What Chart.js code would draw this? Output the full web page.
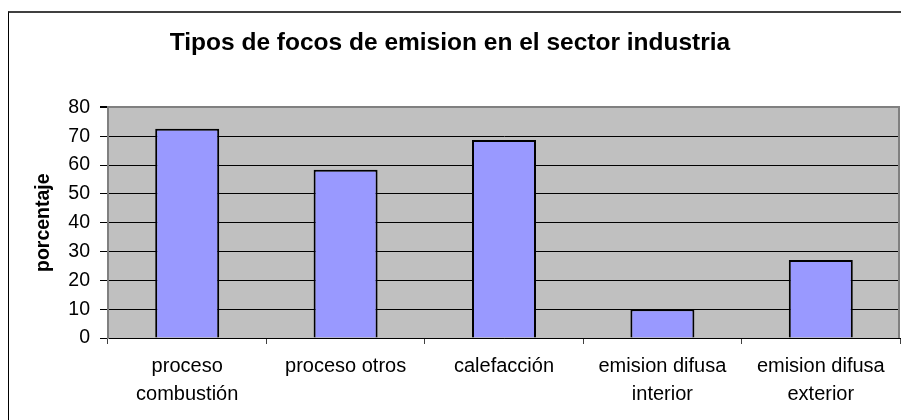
<!DOCTYPE html>
<html>
<head>
<meta charset="utf-8">
<script src="https://cdn.jsdelivr.net/npm/chart.js@4.4.1/dist/chart.umd.min.js"></script>
<style>
    html, body { margin: 0; padding: 0; background: #fff; overflow: hidden; }
    #frame { position: absolute; left: 8px; top: 11px; width: 1000px; height: 1000px;
             border-left: 1px solid #000; border-top: 2px solid #404040; }
    #wrap { position: absolute; left: 0; top: 0; width: 901px; height: 420px; }
</style>
</head>
<body>
<div id="frame"></div>
<div id="wrap"><canvas id="chart"></canvas></div>
<script>
// Chart data
const categories = [
    ['proceso', 'combustión'],
    'proceso otros',
    'calefacción',
    ['emision difusa', 'interior'],
    ['emision difusa', 'exterior']
];
const percentages = [72.6, 58.4, 68.7, 10, 27.1];
const yMin = 0;
const yMax = 80;
const yStep = 10;

const chartTitle = 'Tipos de focos de emision en el sector industria';
const yTitle = 'porcentaje';

const FONT = "'Liberation Sans', Arial, sans-serif";

// grey plot background + grey frame on the right
const plotArea = {
    id: 'plotArea',
    beforeDraw(chart) {
        const { ctx, chartArea: a } = chart;
        ctx.save();
        ctx.fillStyle = '#c0c0c0';
        ctx.fillRect(a.left, a.top, a.right - a.left, a.bottom - a.top);
        ctx.restore();
    },
    afterDraw(chart) {
        const { ctx, chartArea: a } = chart;
        ctx.save();
        ctx.strokeStyle = '#808080';
        ctx.lineWidth = 2;
        ctx.beginPath();
        ctx.moveTo(a.right - 1, a.top);
        ctx.lineTo(a.right - 1, a.bottom);
        ctx.stroke();
        ctx.restore();
    }
};

new Chart(document.getElementById('chart'), {
    type: 'bar',
    data: {
        labels: categories,
        datasets: [{
            data: percentages,
            backgroundColor: '#9999ff',
            borderColor: '#000',
            borderWidth: 2,
            barPercentage: 0.404,
            categoryPercentage: 1
        }]
    },
    options: {
        responsive: true,
        maintainAspectRatio: false,
        animation: false,
        layout: { padding: { left: 0, right: 1, top: 0, bottom: 0 } },
        plugins: {
            legend: { display: false },
            tooltip: { enabled: false },
            title: {
                display: true,
                text: chartTitle,
                color: '#000',
                font: { family: FONT, size: 24.5, weight: 'bold', lineHeight: 1.2 },
                padding: { top: 29, bottom: 49 }
            }
        },
        scales: {
            x: {
                grid: { drawOnChartArea: false, drawTicks: true, tickLength: 6, color: '#404040', offset: true },
                border: { color: '#000', width: 1 },
                ticks: {
                    color: '#000',
                    padding: 9,
                    maxRotation: 0,
                    autoSkip: false,
                    font: { family: FONT, size: 20, lineHeight: 1.385 }
                },
                afterFit(s) { s.height = 82; }
            },
            y: {
                min: yMin,
                max: yMax,
                ticks: {
                    stepSize: yStep,
                    color: '#000',
                    padding: 10,
                    font: { family: FONT, size: 19.5 }
                },
                grid: {
                    color: c => (c.tick && c.tick.value === yMax) ? '#808080' : '#000',
                    lineWidth: c => (c.tick && c.tick.value === yMax) ? 2 : 1,
                    tickColor: '#000',
                    tickLength: 8
                },
                border: { color: '#808080', width: 2 },
                title: {
                    display: true,
                    text: yTitle,
                    color: '#000',
                    font: { family: FONT, size: 19.5, weight: 'bold', lineHeight: 1.2 },
                    padding: { top: 32, bottom: 0 }
                },
                afterFit(s) { s.width = 108; }
            }
        }
    },
    plugins: [plotArea]
});
</script>
</body>
</html>
